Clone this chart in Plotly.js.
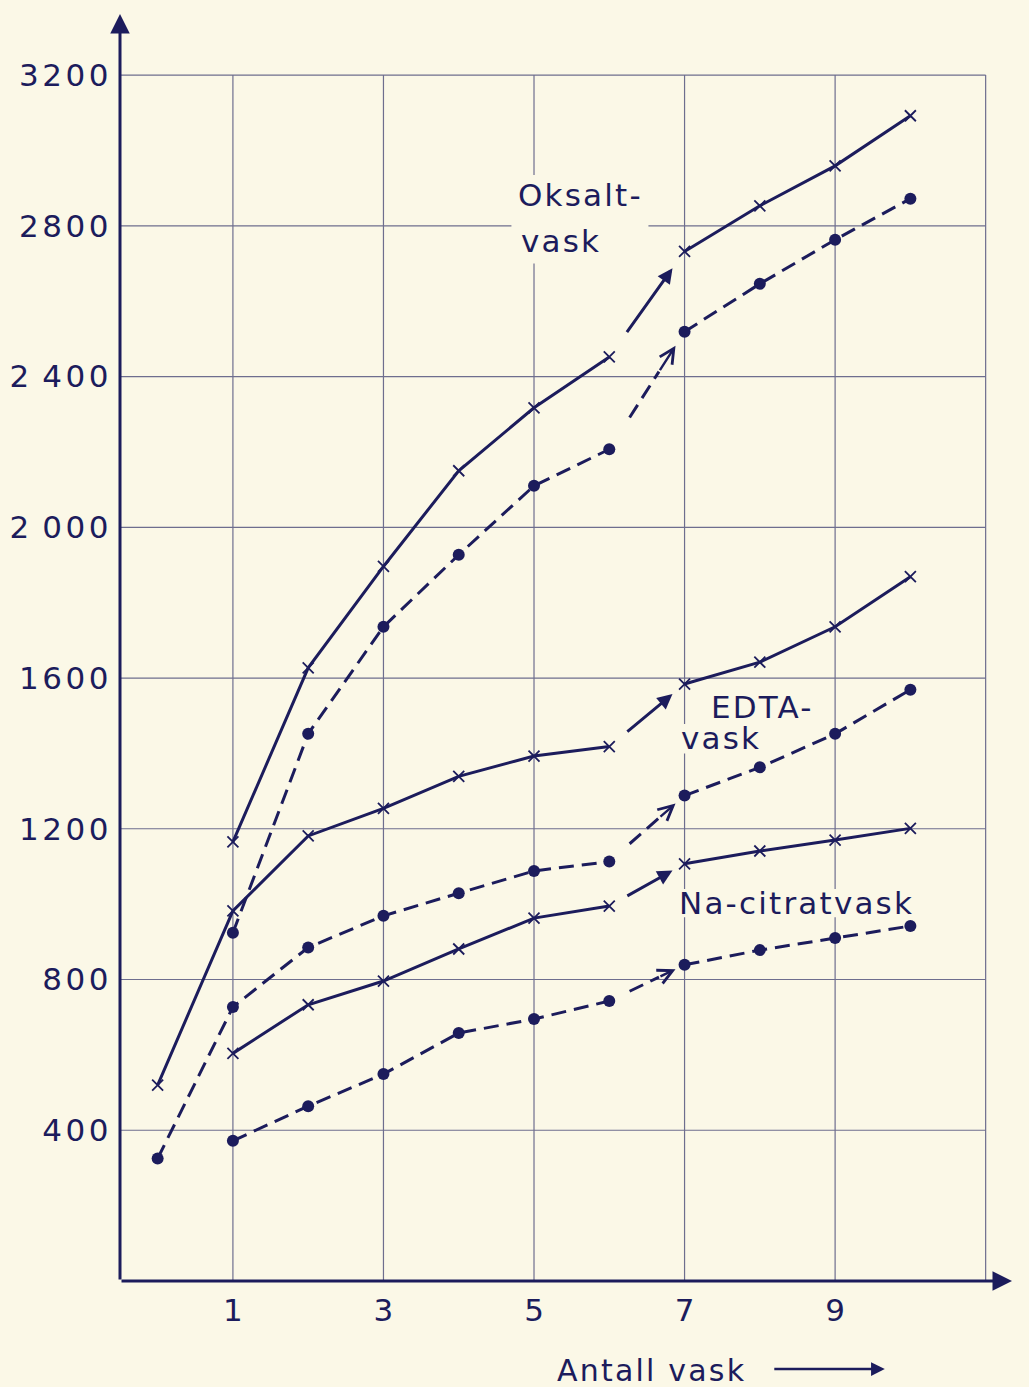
<!DOCTYPE html>
<html>
<head>
<meta charset="utf-8">
<script src="https://cdn.plot.ly/plotly-3.0.1.min.js"></script>
<style>
  html, body { margin: 0; padding: 0; background: #fbf8e7; }
  #chart { width: 1029px; height: 1387px; }
  .annotation-text { letter-spacing: 2.2px; }
  .ytick text { letter-spacing: 3.5px; }
</style>
</head>
<body>
<div id="chart"></div>
<script>
// ---- data ----
const washes = [0, 1, 2, 3, 4, 5, 6, 7, 8, 9, 10];
const oksaltCross = [null, 1165, 1627, 1896, 2150, 2317, 2452, 2732, 2853, 2959, 3092];
const oksaltDot   = [null, 924, 1452, 1736, 1927, 2110, 2207, 2519, 2646, 2763, 2872];
const edtaCross   = [520, 982, 1181, 1254, 1339, 1393, 1418, 1584, 1642, 1736, 1869];
const edtaDot     = [325, 727, 885, 969, 1029, 1088, 1113, 1288, 1363, 1452, 1569];
const citratCross = [null, 604, 733, 796, 881, 963, 995, 1107, 1141, 1170, 1201];
const citratDot   = [null, 372, 464, 549, 658, 695, 743, 839, 878, 910, 942];

const yTickVals  = [400, 800, 1200, 1600, 2000, 2400, 2800, 3200];
const yTickText  = ['400', '800', '1200', '1600', '2\u2009000', '2\u2009400', '2800', '3200'];
const xTickVals  = [1, 3, 5, 7, 9];
const xTickText  = ['1', '3', '5', '7', '9'];
const xGrid = [1, 3, 5, 7, 9, 11];
const labels = {oksalt1: 'Oksalt-', oksalt2: 'vask', edta1: 'EDTA-', edta2: 'vask', citrat: 'Na-citratvask'};
const xTitle = 'Antall vask';

// ---- styling ----
const INK = '#1c1c5c';
const GRID = '#6e6e8e';
const BG = '#fbf8e7';
const FONT = 'DejaVu Sans, sans-serif';
const X0 = -0.5, X1 = 11.35, Y0 = 0, Y1 = 3362, GRIDTOP = 3200, GRIDRIGHT = 11;
const LW = 3;
const DASH = '15px,8px';
const breakAfter = 6; // an arrow replaces the segment 6 -> 7

const traces = [];
const annotations = [];

function addSeries(vals, dotted) {
  const mk = dotted
    ? {symbol: 'circle', size: 12, color: INK}
    : {symbol: 'x-thin-open', size: 11, color: INK, line: {color: INK, width: 1.8}};
  const line = dotted ? {color: INK, width: LW, dash: DASH} : {color: INK, width: LW};
  const parts = [washes.map((w, i) => i).filter(i => washes[i] <= breakAfter),
                 washes.map((w, i) => i).filter(i => washes[i] > breakAfter)];
  parts.forEach(idx => {
    const xs = [], ys = [];
    idx.forEach(i => { if (vals[i] !== null) { xs.push(washes[i]); ys.push(vals[i]); } });
    traces.push({x: xs, y: ys, type: 'scatter', mode: 'lines+markers', marker: mk, line: line,
                 hoverinfo: 'x+y', cliponaxis: false});
  });
  // arrow from point 6 to point 7
  const i6 = washes.indexOf(breakAfter), i7 = i6 + 1;
  const xa = washes[i6], xb = washes[i7], ya = vals[i6], yb = vals[i7];
  const at = f => [xa + f * (xb - xa), ya + f * (yb - ya)];
  if (!dotted) {
    const s = at(0.22), t = at(0.84);
    annotations.push({x: t[0], y: t[1], ax: s[0], ay: s[1], axref: 'x', ayref: 'y', xref: 'x', yref: 'y',
      text: '', showarrow: true, arrowhead: 2, arrowsize: 1.0, arrowwidth: LW, arrowcolor: INK, standoff: 0});
  } else {
    const s = at(0.27), m = at(0.66), t = at(0.88);
    traces.push({x: [s[0], m[0]], y: [s[1], m[1]], type: 'scatter', mode: 'lines',
                 line: {color: INK, width: LW, dash: DASH}, hoverinfo: 'skip'});
    annotations.push({x: t[0], y: t[1], ax: m[0], ay: m[1], axref: 'x', ayref: 'y', xref: 'x', yref: 'y',
      text: '', showarrow: true, arrowhead: 5, arrowsize: 1.2, arrowwidth: 2.4, arrowcolor: INK, standoff: 0});
  }
}

addSeries(oksaltCross, false);
addSeries(oksaltDot, true);
addSeries(edtaCross, false);
addSeries(edtaDot, true);
addSeries(citratCross, false);
addSeries(citratDot, true);

// grid as shapes (stops at 3200 and x=11 like the reference)
const shapes = [];
xGrid.forEach(x => shapes.push({type: 'line', xref: 'x', yref: 'y', x0: x, x1: x, y0: Y0, y1: GRIDTOP,
  line: {color: GRID, width: 1.2}, layer: 'below'}));
yTickVals.forEach(y => shapes.push({type: 'line', xref: 'x', yref: 'y', x0: X0, x1: GRIDRIGHT, y0: y, y1: y,
  line: {color: GRID, width: 1.2}, layer: 'below'}));
// paper-coloured patches behind the labels (they break the grid like the reference), under the data
const patches = [
  [4.70, 6.52, 2700, 2935],   // Oksalt- / vask
  [6.90, 7.95, 1400, 1478],   // EDTA vask
  [6.86, 10.0, 965, 1040]     // Na-citratvask
];
patches.forEach(p => shapes.push({type: 'rect', xref: 'x', yref: 'y', x0: p[0], x1: p[1], y0: p[2], y1: p[3],
  fillcolor: BG, line: {width: 0}, layer: 'below'}));

// axes with arrowheads
annotations.push({x: X1, y: Y0, ax: X0, ay: Y0, axref: 'x', ayref: 'y', xref: 'x', yref: 'y', text: '',
  showarrow: true, arrowhead: 2, arrowsize: 1.3, arrowwidth: 3, arrowcolor: INK, standoff: 0});
annotations.push({x: X0, y: Y1, ax: X0, ay: Y0, axref: 'x', ayref: 'y', xref: 'x', yref: 'y', text: '',
  showarrow: true, arrowhead: 2, arrowsize: 1.3, arrowwidth: 3, arrowcolor: INK, standoff: 0});

// text labels
const tf = {family: FONT, size: 31, color: INK};
annotations.push({x: 4.76, y: 2882, xref: 'x', yref: 'y', text: labels.oksalt1, showarrow: false,
  xanchor: 'left', yanchor: 'middle', font: tf});
annotations.push({x: 4.80, y: 2760, xref: 'x', yref: 'y', text: labels.oksalt2, showarrow: false,
  xanchor: 'left', yanchor: 'middle', font: tf});
annotations.push({x: 7.32, y: 1523, xref: 'x', yref: 'y', text: labels.edta1, showarrow: false,
  xanchor: 'left', yanchor: 'middle', font: tf});
annotations.push({x: 6.92, y: 1440, xref: 'x', yref: 'y', text: labels.edta2, showarrow: false,
  xanchor: 'left', yanchor: 'middle', font: tf});
annotations.push({x: 6.90, y: 1003, xref: 'x', yref: 'y', text: labels.citrat, showarrow: false,
  xanchor: 'left', yanchor: 'middle', font: tf});

// x title with arrow
annotations.push({x: 5.28, y: -0.071, xref: 'x', yref: 'paper', text: xTitle, showarrow: false,
  xanchor: 'left', yanchor: 'middle', font: {family: FONT, size: 30, color: INK}});
annotations.push({x: 9.66, y: -0.0695, xref: 'x', yref: 'paper', ax: -112, ay: 0, text: '',
  showarrow: true, arrowhead: 2, arrowsize: 1.1, arrowwidth: 2.5, arrowcolor: INK, standoff: 0});

const layout = {
  width: 1029, height: 1387,
  margin: {l: 120, r: 17, t: 14, b: 106},
  paper_bgcolor: BG, plot_bgcolor: BG,
  showlegend: false,
  font: {family: FONT, color: INK},
  xaxis: {range: [X0, X1], tickvals: xTickVals, ticktext: xTickText, showgrid: false, zeroline: false,
          showline: false, ticks: '', ticklabelstandoff: 8, tickfont: {family: FONT, size: 31, color: INK}},
  yaxis: {range: [Y0, Y1], tickvals: yTickVals, ticktext: yTickText, showgrid: false, zeroline: false,
          showline: false, ticks: '', ticklabelstandoff: 7, tickfont: {family: FONT, size: 31, color: INK}},
  shapes: shapes,
  annotations: annotations
};

Plotly.newPlot('chart', traces, layout, {staticPlot: true});
</script>
</body>
</html>
